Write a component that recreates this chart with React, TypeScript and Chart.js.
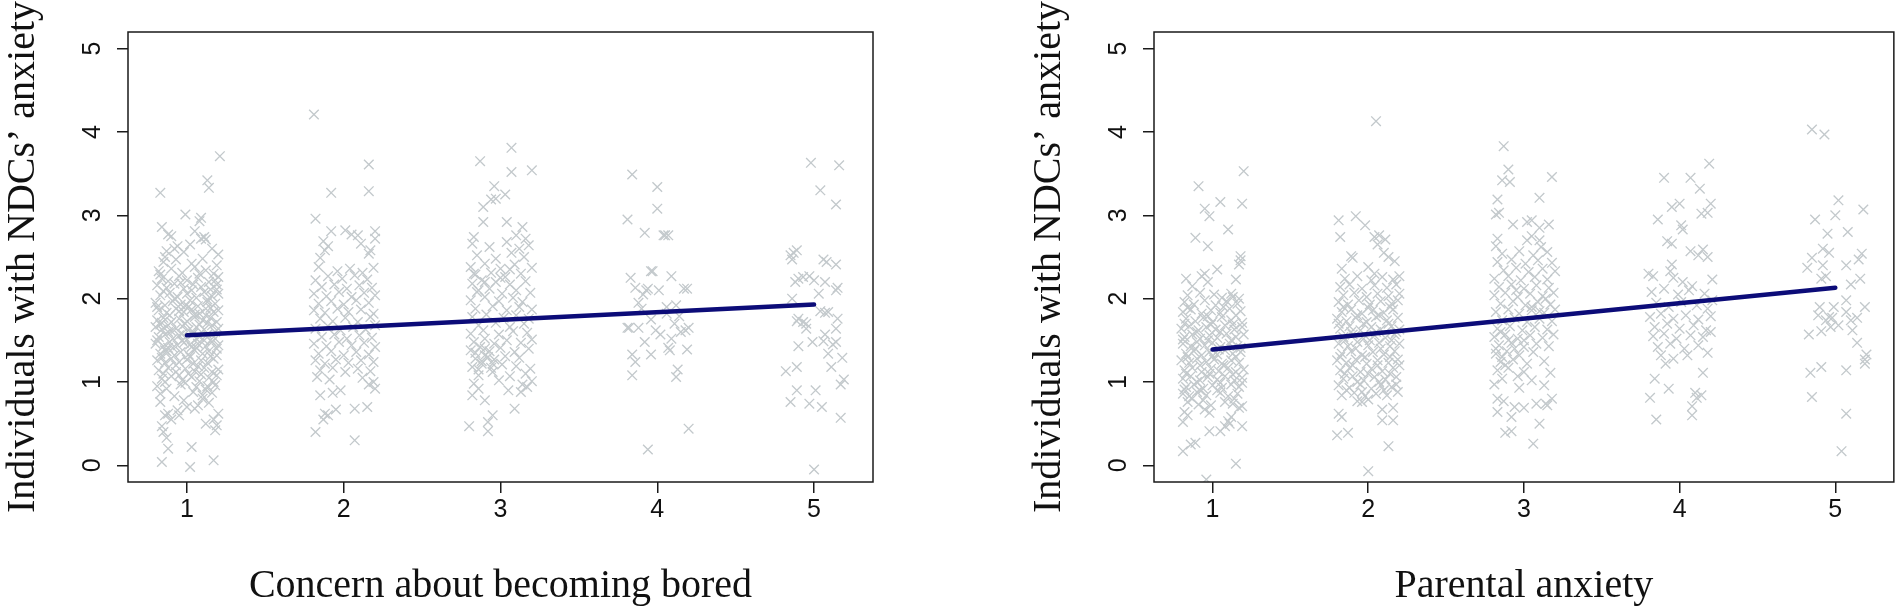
import { useEffect, useRef } from "react";
import Chart from "chart.js/auto";

type Pt = [number, number];

// x: jittered answer category, y: individuals with NDCs' anxiety score
const boredG1: Pt[] = [
  [0.83, 3.27], [1.21, 3.71], [1.13, 3.42], [1.14, 3.33], [0.99, 3.01], [1.09, 2.97], [1.08, 2.93], [0.84, 2.86],
  [0.88, 2.77], [0.9, 2.75], [1.05, 2.81], [1.09, 2.72], [1.12, 2.71], [1.11, 2.74], [0.92, 2.6], [0.94, 2.63],
  [0.98, 2.56], [0.87, 2.57], [0.86, 2.5], [1.2, 2.53], [1.16, 2.6], [1.02, 2.65],
  [0.85, 2.44], [0.93, 2.47], [1.03, 2.42], [1.1, 2.48], [1.19, 2.4],
  [0.82, 2.33], [0.9, 2.36], [0.97, 2.31], [1.05, 2.38], [1.12, 2.34], [1.17, 2.3],
  [0.84, 2.24], [0.88, 2.21], [0.95, 2.27], [1.0, 2.22], [1.07, 2.25], [1.14, 2.2], [1.2, 2.26],
  [0.81, 2.16], [0.87, 2.13], [0.92, 2.18], [0.98, 2.12], [1.04, 2.17], [1.09, 2.14], [1.15, 2.11], [1.19, 2.17],
  [0.83, 2.04], [0.89, 2.07], [0.94, 2.02], [1.0, 2.06], [1.06, 2.01], [1.11, 2.08], [1.16, 2.03], [1.2, 2.06],
  [0.8, 1.95], [0.86, 1.92], [0.91, 1.97], [0.96, 1.93], [1.02, 1.98], [1.07, 1.91], [1.13, 1.96], [1.18, 1.94],
  [0.82, 1.86], [0.87, 1.83], [0.93, 1.88], [0.98, 1.84], [1.03, 1.87], [1.08, 1.82], [1.12, 1.88], [1.17, 1.84], [1.2, 1.86],
  [0.81, 1.74], [0.85, 1.77], [0.9, 1.72], [0.95, 1.76], [1.0, 1.73], [1.05, 1.78], [1.1, 1.74], [1.15, 1.77], [1.19, 1.72],
  [0.8, 1.66], [0.84, 1.63], [0.88, 1.68], [0.93, 1.64], [0.97, 1.67], [1.01, 1.62], [1.06, 1.66], [1.11, 1.63], [1.16, 1.68], [1.2, 1.64],
  [0.82, 1.54], [0.86, 1.57], [0.91, 1.52], [0.95, 1.56], [0.99, 1.53], [1.04, 1.58], [1.08, 1.54], [1.13, 1.57], [1.18, 1.52],
  [0.8, 1.46], [0.85, 1.43], [0.89, 1.48], [0.94, 1.44], [0.98, 1.47], [1.03, 1.42], [1.07, 1.46], [1.12, 1.43], [1.16, 1.48], [1.2, 1.44],
  [0.83, 1.34], [0.87, 1.37], [0.92, 1.32], [0.96, 1.36], [1.01, 1.33], [1.05, 1.38], [1.1, 1.34], [1.14, 1.37], [1.19, 1.32],
  [0.81, 1.26], [0.86, 1.23], [0.9, 1.28], [0.95, 1.24], [1.0, 1.27], [1.04, 1.22], [1.09, 1.26], [1.13, 1.23], [1.17, 1.28],
  [0.82, 1.14], [0.88, 1.17], [0.93, 1.12], [0.99, 1.16], [1.05, 1.13], [1.11, 1.17], [1.16, 1.12], [1.2, 1.15],
  [0.84, 1.04], [0.9, 1.07], [0.97, 1.02], [1.03, 1.06], [1.08, 1.01], [1.14, 1.05], [1.19, 1.08],
  [0.81, 0.95], [0.87, 0.92], [0.96, 0.97], [1.06, 0.94], [1.12, 0.91], [1.18, 0.96],
  [0.83, 0.86], [0.92, 0.83], [1.04, 0.88], [1.1, 0.84], [1.16, 0.87],
  [0.84, 1.71], [0.97, 1.58], [1.08, 1.69], [1.02, 1.45], [0.91, 1.41], [1.15, 1.5], [0.88, 1.6], [1.12, 1.8],
  [0.95, 1.85], [1.01, 1.9], [0.86, 1.38], [1.06, 1.52],
  [0.83, 2.29], [0.96, 2.19], [1.08, 2.3], [1.18, 2.22],
  [0.85, 2.09], [0.92, 2.0], [1.03, 2.1], [1.13, 1.99], [1.19, 2.11],
  [0.81, 1.9], [0.89, 1.8], [0.99, 1.91], [1.05, 1.81], [1.15, 1.89],
  [0.83, 1.69], [0.9, 1.61], [0.99, 1.7], [1.04, 1.6], [1.13, 1.71], [1.18, 1.6],
  [0.81, 1.5], [0.88, 1.41], [0.97, 1.5], [1.06, 1.41], [1.11, 1.5], [1.19, 1.4],
  [0.84, 1.29], [0.93, 1.2], [1.02, 1.3], [1.07, 1.19], [1.15, 1.31],
  [0.85, 1.1], [0.95, 1.08], [1.01, 1.1], [1.09, 1.09], [1.17, 1.0],
  [0.86, 1.0], [0.99, 0.99], [1.13, 0.95],
  [0.83, 0.76], [0.86, 0.6], [0.88, 0.62], [0.94, 0.66], [0.95, 0.6], [1.0, 0.7], [1.05, 0.68], [1.07, 0.72],
  [1.12, 0.5], [1.17, 0.55], [1.19, 0.48], [1.18, 0.42], [0.84, 0.47], [0.85, 0.4], [0.87, 0.33], [0.88, 0.2],
  [0.84, 0.04], [1.03, 0.22], [1.02, -0.02], [1.17, 0.06], [0.9, 0.55], [1.1, 0.8], [1.14, 0.75], [0.98, 0.78], [1.2, 0.62],
];

const boredG2: Pt[] = [
  [1.81, 4.21], [2.16, 3.61], [1.92, 3.27], [2.16, 3.29], [1.82, 2.96], [1.92, 2.81], [2.01, 2.82], [2.05, 2.77],
  [2.09, 2.76], [2.2, 2.81], [2.2, 2.72], [1.87, 2.69], [1.9, 2.63], [1.88, 2.58], [1.85, 2.49], [2.17, 2.58],
  [2.16, 2.54], [2.11, 2.66],
  [1.84, 2.38], [1.96, 2.33], [2.04, 2.36], [2.12, 2.31], [2.19, 2.37],
  [1.82, 2.22], [1.9, 2.27], [1.99, 2.24], [2.07, 2.28], [2.15, 2.23],
  [1.86, 2.14], [1.94, 2.17], [2.02, 2.12], [2.1, 2.16], [2.18, 2.13],
  [1.81, 2.06], [1.89, 2.03], [1.97, 2.08], [2.05, 2.02], [2.13, 2.07], [2.2, 2.04],
  [1.84, 1.94], [1.92, 1.97], [2.0, 1.93], [2.08, 1.98], [2.16, 1.95],
  [1.81, 1.86], [1.88, 1.83], [1.96, 1.88], [2.03, 1.84], [2.11, 1.87], [2.19, 1.82],
  [1.85, 1.76], [1.93, 1.73], [2.01, 1.77], [2.09, 1.72], [2.17, 1.78],
  [1.82, 1.64], [1.9, 1.67], [1.98, 1.62], [2.06, 1.66], [2.14, 1.63], [2.2, 1.68],
  [1.86, 1.54], [1.94, 1.57], [2.02, 1.52], [2.1, 1.56], [2.18, 1.53],
  [1.81, 1.46], [1.89, 1.43], [1.97, 1.48], [2.05, 1.44], [2.13, 1.47], [2.2, 1.42],
  [1.84, 1.34], [1.92, 1.37], [2.0, 1.32], [2.08, 1.36], [2.16, 1.33],
  [1.82, 1.26], [1.88, 1.22], [1.95, 1.27], [2.03, 1.23], [2.11, 1.26], [2.19, 1.24],
  [1.85, 1.14], [1.93, 1.17], [2.01, 1.12], [2.09, 1.16], [2.17, 1.13],
  [1.83, 1.06], [1.91, 1.03], [2.12, 1.05], [2.19, 1.0], [2.16, 0.97],
  [1.85, 0.84], [1.93, 0.87], [1.88, 0.62], [1.9, 0.6], [1.95, 0.67], [2.07, 0.68], [2.15, 0.7], [1.82, 0.4],
  [1.87, 0.55], [2.07, 0.3], [1.98, 0.9], [2.2, 0.92],
];

const boredG3: Pt[] = [
  [2.87, 3.65], [3.07, 3.81], [3.07, 3.52], [3.2, 3.54], [2.96, 3.35], [2.94, 3.19], [2.97, 3.2], [3.03, 3.25],
  [2.89, 3.1], [2.89, 2.92], [3.04, 2.92], [3.14, 2.86], [2.83, 2.74], [3.1, 2.76], [3.16, 2.72],
  [2.82, 2.66], [2.93, 2.62], [3.04, 2.68], [3.12, 2.6], [3.18, 2.64],
  [2.85, 2.52], [2.97, 2.48], [3.07, 2.55], [3.15, 2.5],
  [2.81, 2.38], [2.9, 2.42], [3.0, 2.36], [3.09, 2.41], [3.2, 2.37],
  [2.84, 2.29], [2.94, 2.31], [3.03, 2.26], [3.13, 2.3],
  [2.82, 2.18], [2.88, 2.22], [2.97, 2.2], [3.06, 2.17], [3.16, 2.21],
  [2.85, 2.08], [2.93, 2.12], [3.01, 2.06], [3.1, 2.1], [3.19, 2.07],
  [2.81, 1.98], [2.9, 2.02], [2.99, 1.97], [3.08, 2.01], [3.14, 1.96],
  [2.84, 1.88], [2.95, 1.91], [3.04, 1.86], [3.12, 1.9], [3.2, 1.87],
  [2.82, 1.78], [2.91, 1.81], [3.02, 1.77], [3.1, 1.8], [3.18, 1.76],
  [2.86, 1.68], [2.97, 1.71], [3.06, 1.66], [3.15, 1.7],
  [2.81, 1.58], [2.89, 1.62], [2.99, 1.57], [3.08, 1.61], [3.17, 1.59],
  [2.83, 1.48], [2.9, 1.52], [2.96, 1.46], [3.04, 1.5], [3.13, 1.47], [3.2, 1.51],
  [2.81, 1.38], [2.87, 1.42], [2.93, 1.37], [3.0, 1.41], [3.09, 1.36], [3.18, 1.4],
  [2.84, 1.28], [2.9, 1.32], [2.96, 1.27], [3.03, 1.31], [3.12, 1.29],
  [2.82, 1.18], [2.88, 1.22], [2.94, 1.17], [3.01, 1.21], [3.1, 1.19], [3.19, 1.16],
  [2.86, 1.08], [2.95, 1.12], [3.06, 1.07], [3.16, 1.1],
  [2.83, 0.98], [2.99, 1.02], [3.14, 0.97], [3.2, 1.01],
  [2.84, 1.35], [2.88, 1.25], [2.92, 1.3], [2.86, 1.15], [2.9, 1.4], [2.95, 1.22], [2.83, 2.3], [2.9, 2.2],
  [2.86, 2.1], [3.0, 2.25], [3.06, 2.35],
  [2.8, 0.47], [2.92, 0.41], [2.92, 0.52], [2.95, 0.6], [3.09, 0.68], [2.82, 0.84], [2.9, 0.78], [3.17, 0.94],
  [3.05, 0.9], [3.13, 0.88], [2.86, 0.92],
];

const boredG4: Pt[] = [
  [3.84, 3.49], [4.0, 3.34], [4.0, 3.08], [3.81, 2.95], [3.92, 2.79], [4.04, 2.76], [4.05, 2.76], [4.07, 2.76],
  [3.96, 2.33], [3.97, 2.33], [3.83, 2.25], [4.09, 2.27], [3.93, 2.1], [3.91, 2.05], [3.94, 2.12], [4.01, 2.1],
  [4.19, 2.12], [4.17, 2.12], [3.86, 2.13], [3.88, 1.95], [4.06, 1.9], [4.12, 1.92], [3.81, 1.65], [3.82, 1.65],
  [3.88, 1.65], [3.96, 1.75], [4.02, 1.57], [4.11, 1.7], [4.18, 1.62], [4.2, 1.65], [4.06, 1.82], [3.92, 1.48],
  [3.84, 1.33], [3.86, 1.24], [3.84, 1.08], [3.96, 1.33], [4.07, 1.41], [4.08, 1.38], [4.19, 1.39], [4.13, 1.15],
  [4.12, 1.06], [4.2, 0.44], [3.94, 0.19], [4.14, 1.79], [3.99, 1.62], [4.09, 1.52], [3.9, 1.88], [4.15, 1.6],
];

const boredG5: Pt[] = [
  [4.98, 3.63], [5.16, 3.6], [5.04, 3.3], [5.14, 3.13], [4.85, 2.52], [4.87, 2.55], [4.89, 2.58], [4.86, 2.47],
  [5.06, 2.47], [5.08, 2.44], [5.14, 2.41], [5.15, 2.13], [5.14, 2.1], [4.88, 2.2], [4.9, 2.24], [4.93, 2.26],
  [4.97, 2.27], [5.0, 2.22], [5.03, 2.06], [5.07, 2.2], [4.86, 2.0], [4.89, 1.73], [4.9, 1.76], [4.93, 1.72],
  [4.95, 1.64], [5.04, 1.85], [5.07, 1.83], [5.09, 1.84], [5.15, 1.76], [5.14, 1.64], [5.07, 1.57], [4.99, 1.48],
  [5.14, 1.48], [5.06, 1.49], [4.9, 1.43], [5.09, 1.34], [5.11, 1.18], [4.82, 1.13], [4.89, 1.18], [5.18, 1.29],
  [5.17, 0.97], [5.19, 1.03], [4.89, 0.9], [4.85, 0.76], [4.97, 0.74], [5.01, 0.9], [5.05, 0.7], [5.17, 0.57],
  [5.0, -0.05], [4.95, 1.7], [5.12, 1.45],
];

const parentG1: Pt[] = [
  [1.2, 3.53], [0.91, 3.35], [1.19, 3.14], [1.05, 3.16], [0.95, 3.08], [0.98, 2.99], [1.1, 2.83], [0.89, 2.73],
  [0.97, 2.63], [1.18, 2.51], [1.17, 2.41], [1.18, 2.46], [0.83, 2.24], [0.93, 2.27], [0.95, 2.3], [1.03, 2.35],
  [1.15, 2.23], [0.97, 2.2], [0.87, 2.15], [1.01, 2.05], [1.13, 2.02], [1.17, 2.0],
  [0.84, 2.04], [0.92, 2.07], [1.06, 2.01], [1.12, 2.06],
  [0.82, 1.96], [0.88, 1.93], [0.95, 1.98], [1.02, 1.92], [1.09, 1.97], [1.16, 1.94],
  [0.81, 1.84], [0.86, 1.87], [0.93, 1.82], [0.99, 1.86], [1.05, 1.83], [1.11, 1.88], [1.18, 1.85],
  [0.83, 1.76], [0.89, 1.73], [0.94, 1.77], [1.0, 1.72], [1.06, 1.78], [1.12, 1.74], [1.19, 1.71],
  [0.8, 1.64], [0.85, 1.67], [0.91, 1.62], [0.96, 1.66], [1.02, 1.63], [1.08, 1.68], [1.14, 1.63], [1.19, 1.66],
  [0.82, 1.54], [0.87, 1.57], [0.92, 1.52], [0.98, 1.56], [1.03, 1.53], [1.09, 1.58], [1.15, 1.54], [1.2, 1.57],
  [0.81, 1.46], [0.86, 1.43], [0.9, 1.48], [0.95, 1.44], [1.0, 1.47], [1.05, 1.42], [1.11, 1.46], [1.16, 1.43],
  [0.83, 1.34], [0.88, 1.37], [0.93, 1.32], [0.98, 1.36], [1.03, 1.33], [1.08, 1.38], [1.13, 1.34], [1.18, 1.36],
  [0.8, 1.26], [0.85, 1.23], [0.9, 1.28], [0.96, 1.24], [1.01, 1.27], [1.06, 1.22], [1.12, 1.26], [1.17, 1.23],
  [0.82, 1.14], [0.87, 1.17], [0.93, 1.12], [0.99, 1.16], [1.04, 1.13], [1.1, 1.17], [1.15, 1.12], [1.2, 1.15],
  [0.81, 1.04], [0.86, 1.07], [0.92, 1.02], [0.97, 1.06], [1.03, 1.03], [1.08, 1.07], [1.14, 1.02], [1.19, 1.05],
  [0.83, 0.94], [0.88, 0.97], [0.94, 0.92], [1.0, 0.96], [1.06, 0.93], [1.12, 0.97], [1.17, 0.94],
  [0.81, 0.86], [0.85, 0.83], [0.9, 0.88], [0.96, 0.84], [1.05, 0.87], [1.1, 0.83], [1.16, 0.86],
  [0.84, 0.76], [0.91, 0.73], [0.94, 0.78], [0.99, 0.72], [1.08, 0.76], [1.13, 0.74], [1.19, 0.71],
  [0.82, 0.64], [0.95, 0.67], [0.98, 0.63], [1.17, 0.69],
  [0.84, 1.89], [0.97, 1.79], [1.07, 1.9], [1.15, 1.8],
  [0.82, 1.7], [0.9, 1.6], [0.99, 1.69], [1.05, 1.6], [1.13, 1.69],
  [0.81, 1.51], [0.89, 1.4], [0.97, 1.5], [1.04, 1.39], [1.12, 1.5], [1.18, 1.41],
  [0.84, 1.3], [0.92, 1.2], [1.0, 1.31], [1.07, 1.2], [1.15, 1.3],
  [0.83, 1.1], [0.9, 1.0], [0.98, 1.1], [1.05, 0.99], [1.13, 1.09], [1.19, 0.99],
  [0.82, 0.91], [0.87, 0.8], [0.92, 0.9], [1.03, 0.9], [1.14, 0.8],
  [0.81, 0.17], [0.86, 0.25], [0.89, 0.27], [0.98, 0.41], [1.05, 0.41], [1.19, 0.47], [0.81, 0.52], [0.84, 0.6],
  [1.1, 0.53], [1.15, 0.02], [0.96, -0.17], [1.12, 0.58], [1.08, 0.47], [1.11, 0.5],
];

const parentG2: Pt[] = [
  [2.05, 4.13], [1.81, 2.94], [1.92, 2.99], [1.98, 2.88], [1.82, 2.74], [2.04, 2.74], [2.07, 2.76], [2.11, 2.71],
  [2.06, 2.65], [1.89, 2.51], [2.13, 2.5], [2.17, 2.45], [1.83, 2.36], [2.04, 2.3], [1.9, 2.49], [2.1, 2.55], [2.0, 2.38],
  [1.85, 2.24], [1.93, 2.27], [2.02, 2.22], [2.09, 2.26], [2.16, 2.23], [2.2, 2.27],
  [1.82, 2.14], [1.88, 2.17], [1.96, 2.12], [2.04, 2.16], [2.12, 2.13], [2.18, 2.17],
  [1.84, 2.04], [1.91, 2.07], [1.99, 2.02], [2.06, 2.06], [2.13, 2.03], [2.2, 2.06],
  [1.81, 1.96], [1.87, 1.93], [1.94, 1.98], [2.01, 1.93], [2.08, 1.97], [2.15, 1.94], [2.19, 1.98],
  [1.83, 1.84], [1.89, 1.87], [1.96, 1.82], [2.03, 1.86], [2.1, 1.83], [2.16, 1.87],
  [1.8, 1.76], [1.86, 1.73], [1.92, 1.77], [1.99, 1.72], [2.05, 1.78], [2.12, 1.74], [2.19, 1.77],
  [1.82, 1.64], [1.88, 1.67], [1.95, 1.62], [2.02, 1.66], [2.08, 1.63], [2.15, 1.67], [2.2, 1.63],
  [1.84, 1.54], [1.9, 1.57], [1.97, 1.52], [2.04, 1.56], [2.11, 1.53], [2.17, 1.57],
  [1.81, 1.46], [1.87, 1.43], [1.93, 1.48], [2.0, 1.44], [2.07, 1.47], [2.14, 1.43], [2.2, 1.46],
  [1.83, 1.34], [1.89, 1.37], [1.96, 1.32], [2.03, 1.36], [2.1, 1.33], [2.17, 1.37],
  [1.8, 1.26], [1.86, 1.23], [1.92, 1.27], [1.99, 1.22], [2.06, 1.26], [2.13, 1.23], [2.19, 1.27],
  [1.82, 1.14], [1.88, 1.17], [1.95, 1.12], [2.02, 1.16], [2.09, 1.13], [2.16, 1.17],
  [1.84, 1.04], [1.9, 1.07], [1.97, 1.02], [2.04, 1.06], [2.11, 1.03], [2.18, 1.06],
  [1.81, 0.96], [1.88, 0.93], [1.95, 0.97], [2.02, 0.92], [2.08, 0.96], [2.15, 0.94],
  [1.83, 0.84], [1.91, 0.87], [1.98, 0.83], [2.05, 0.86], [2.12, 0.84], [2.19, 0.88],
  [1.93, 0.77], [1.96, 0.76], [2.0, 0.79],
  [1.84, 1.9], [1.93, 1.8], [2.0, 1.89], [2.07, 1.8], [2.14, 1.9],
  [1.81, 1.7], [1.89, 1.6], [1.97, 1.7], [2.05, 1.6], [2.13, 1.7], [2.18, 1.6],
  [1.85, 1.5], [1.92, 1.4], [2.01, 1.5], [2.08, 1.4], [2.15, 1.5],
  [1.82, 1.3], [1.9, 1.2], [1.98, 1.3], [2.06, 1.2], [2.14, 1.3], [2.2, 1.2],
  [1.85, 1.1], [1.93, 1.0], [2.0, 1.1], [2.07, 1.0], [2.14, 1.1],
  [1.86, 0.9], [1.96, 0.88], [2.1, 0.9], [2.18, 0.97],
  [1.81, 0.62], [1.83, 0.58], [2.09, 0.67], [2.16, 0.69], [2.09, 0.54], [2.16, 0.54], [1.8, 0.36], [1.87, 0.39],
  [2.13, 0.23], [2.0, -0.07],
];

const parentG3: Pt[] = [
  [2.87, 3.83], [2.9, 3.55], [2.86, 3.42], [2.91, 3.4], [3.18, 3.46], [2.83, 3.19], [3.1, 3.21], [2.82, 3.01],
  [2.84, 3.03], [2.93, 2.89], [3.02, 2.92], [3.05, 2.94], [3.1, 2.85], [3.16, 2.89], [2.83, 2.72], [3.02, 2.7],
  [3.05, 2.75], [3.1, 2.7], [3.11, 2.62], [2.82, 2.63],
  [2.86, 2.54], [2.97, 2.57], [3.06, 2.52], [3.15, 2.56],
  [2.83, 2.44], [2.92, 2.47], [3.01, 2.42], [3.09, 2.46], [3.18, 2.43],
  [2.87, 2.34], [2.95, 2.37], [3.03, 2.32], [3.12, 2.36], [3.2, 2.33],
  [2.81, 2.24], [2.9, 2.27], [2.98, 2.22], [3.07, 2.26], [3.15, 2.23],
  [2.84, 2.14], [2.92, 2.17], [3.0, 2.12], [3.08, 2.16], [3.16, 2.13],
  [2.81, 2.04], [2.88, 2.07], [2.96, 2.02], [3.04, 2.06], [3.12, 2.03], [3.19, 2.07],
  [2.85, 1.94], [2.93, 1.97], [3.01, 1.92], [3.09, 1.96], [3.17, 1.93],
  [2.82, 1.84], [2.9, 1.87], [2.97, 1.82], [3.05, 1.86], [3.13, 1.83], [3.2, 1.87],
  [2.86, 1.74], [2.94, 1.77], [3.02, 1.72], [3.1, 1.76], [3.18, 1.73],
  [2.83, 1.64], [2.91, 1.67], [2.99, 1.62], [3.07, 1.66], [3.15, 1.63],
  [2.81, 1.54], [2.88, 1.57], [2.96, 1.52], [3.04, 1.56], [3.12, 1.53], [3.19, 1.57],
  [2.84, 1.44], [2.92, 1.47], [3.0, 1.42], [3.08, 1.46], [3.16, 1.43],
  [2.82, 1.34], [2.89, 1.37], [2.97, 1.32], [3.06, 1.36],
  [2.85, 1.24], [2.93, 1.27], [3.02, 1.22], [3.13, 1.25],
  [2.83, 1.14], [2.9, 1.17], [3.0, 1.12],
  [2.86, 1.04], [2.96, 1.07], [3.05, 1.02],
  [2.82, 1.4], [2.86, 1.3], [2.9, 1.5], [2.94, 1.4], [2.88, 1.2], [2.85, 1.6], [3.0, 1.5], [3.05, 1.9],
  [2.95, 2.1], [3.1, 1.85], [3.14, 2.0],
  [2.83, 0.8], [2.87, 0.77], [2.94, 0.7], [3.0, 0.69], [3.08, 0.74], [3.14, 0.74], [3.18, 0.8], [2.83, 0.64],
  [2.92, 0.58], [3.1, 0.5], [2.88, 0.39], [2.92, 0.41], [3.06, 0.26], [3.17, 1.11], [3.15, 0.72], [2.81, 0.97],
  [2.97, 0.93], [3.13, 0.96],
];

const parentG4: Pt[] = [
  [4.19, 3.62], [3.9, 3.45], [4.07, 3.45], [4.13, 3.32], [4.0, 3.14], [3.95, 3.1], [4.2, 3.14], [4.14, 3.02],
  [4.18, 3.03], [3.86, 2.95], [4.01, 2.88], [4.02, 2.83], [3.92, 2.69], [3.95, 2.66], [4.07, 2.57], [4.12, 2.52],
  [4.15, 2.59], [4.18, 2.5], [3.95, 2.41], [3.94, 2.33], [3.8, 2.3], [3.83, 2.27], [3.96, 2.25], [4.02, 2.2],
  [4.21, 2.23], [4.08, 2.15],
  [3.82, 2.08], [3.9, 2.12], [3.99, 2.05], [4.06, 2.1], [4.16, 2.06], [4.21, 1.98],
  [3.85, 1.95], [3.93, 1.9], [4.01, 1.96], [4.11, 1.92], [4.18, 1.88],
  [3.81, 1.78], [3.88, 1.82], [3.96, 1.76], [4.04, 1.8], [4.12, 1.75], [4.2, 1.79],
  [3.84, 1.66], [3.92, 1.7], [4.0, 1.64], [4.09, 1.68], [4.17, 1.62],
  [3.83, 1.55], [3.9, 1.58], [3.98, 1.52], [4.07, 1.56], [4.15, 1.54], [4.2, 1.6],
  [3.86, 1.42], [3.94, 1.46], [4.03, 1.4], [4.12, 1.44],
  [3.88, 1.32], [3.96, 1.28], [4.05, 1.32], [4.18, 1.35], [3.91, 1.22],
  [3.84, 1.04], [3.93, 0.92], [3.81, 0.81], [4.1, 0.87], [4.11, 0.81], [4.14, 0.84], [4.08, 0.71], [4.08, 0.6],
  [3.85, 0.55], [4.15, 1.11],
];

const parentG5: Pt[] = [
  [4.85, 4.03], [4.93, 3.97], [5.02, 3.18], [5.18, 3.07], [4.87, 2.95], [5.0, 3.0], [4.95, 2.78], [5.08, 2.8],
  [4.92, 2.6], [4.85, 2.49], [4.82, 2.37], [4.96, 2.55], [5.17, 2.54], [5.15, 2.47], [5.07, 2.4], [4.92, 2.4],
  [4.91, 2.24], [4.94, 2.27], [5.16, 2.24], [5.1, 2.17], [4.9, 1.9], [4.99, 1.9], [5.07, 1.84], [5.19, 1.9],
  [5.07, 1.98], [4.96, 1.78], [4.98, 1.77], [4.89, 1.8], [5.14, 1.77], [5.1, 1.74], [4.83, 1.57], [4.91, 1.61],
  [5.14, 1.47], [5.2, 1.33], [5.19, 1.22], [5.19, 1.27], [4.84, 1.11], [4.91, 1.18], [4.85, 0.82], [5.07, 1.14],
  [5.07, 0.62], [5.04, 0.17], [4.97, 1.66], [5.02, 1.68], [4.94, 1.74], [5.11, 1.62],
];

// fitted regression lines (value at x = 1 and x = 5)
const boredFit: Pt[] = [[1, 1.56], [5, 1.93]];
const parentFit: Pt[] = [[1, 1.39], [5, 2.13]];

const yTitle = "Individuals with NDCs\u2019 anxiety";

const boxPlugin = {
  id: "plotBox",
  afterDraw(chart: Chart) {
    const { ctx, chartArea } = chart;
    ctx.save();
    ctx.strokeStyle = "#1a1a1a";
    ctx.lineWidth = 1.5;
    ctx.strokeRect(chartArea.left, chartArea.top, chartArea.right - chartArea.left, chartArea.bottom - chartArea.top);
    ctx.restore();
  },
};

interface PanelProps {
  groups: Pt[][];
  fit: Pt[];
  xTitle: string;
  left: number;
  width: number;
  padRight: number;
}

const Panel = ({ groups, fit, xTitle, left, width, padRight }: PanelProps) => {
  const canvasRef = useRef<HTMLCanvasElement>(null);
  const chartRef = useRef<Chart | null>(null);

  useEffect(() => {
    if (!canvasRef.current) return;
    if (chartRef.current) chartRef.current.destroy();

    const points = groups.flat().map(([x, y]) => ({ x, y }));
    const axisColor = "#1a1a1a";
    const tickFont = { family: "'Liberation Sans', Arial, sans-serif", size: 25 };
    const titleFont = { family: "'Liberation Serif', 'Times New Roman', serif", size: 40, lineHeight: 1.15 };

    chartRef.current = new Chart(canvasRef.current, {
      type: "scatter",
      data: {
        datasets: [
          {
            data: fit.map(([x, y]) => ({ x, y })),
            showLine: true,
            borderColor: "#0c0c78",
            borderWidth: 4.5,
            borderCapStyle: "round",
            pointRadius: 0,
            order: 0,
          },
          {
            data: points,
            pointStyle: "crossRot",
            pointRadius: 6.8,
            pointBorderWidth: 1.35,
            borderColor: "#c3c9cc",
            backgroundColor: "#c3c9cc",
            order: 1,
          },
        ],
      },
      options: {
        animation: false,
        responsive: true,
        maintainAspectRatio: false,
        events: [],
        layout: { padding: { top: 30, right: padRight, left: 0, bottom: 0 } },
        plugins: { legend: { display: false }, tooltip: { enabled: false } },
        scales: {
          x: {
            type: "linear",
            min: 0.624,
            max: 5.376,
            afterFit: (scale) => {
              scale.height = 127;
            },
            border: { display: false },
            grid: { drawOnChartArea: false, drawTicks: true, tickLength: 11, color: axisColor, lineWidth: 1.5 },
            ticks: { stepSize: 1, includeBounds: false, color: "#111", font: tickFont, padding: 2, maxRotation: 0 },
            title: { display: true, text: xTitle, color: "#111", font: titleFont, padding: 0 },
          },
          y: {
            type: "linear",
            min: -0.2,
            max: 5.2,
            afterFit: (scale) => {
              scale.width = 128;
            },
            border: { display: false },
            grid: { drawOnChartArea: false, drawTicks: true, tickLength: 11, color: axisColor, lineWidth: 1.5 },
            ticks: {
              stepSize: 1,
              includeBounds: false,
              color: "#111",
              font: tickFont,
              minRotation: 90,
              maxRotation: 90,
              crossAlign: "center",
              padding: 17,
            },
            title: { display: true, text: yTitle, color: "#111", font: titleFont, padding: 0 },
          },
        },
      },
      plugins: [boxPlugin],
    });

    return () => {
      if (chartRef.current) {
        chartRef.current.destroy();
        chartRef.current = null;
      }
    };
  }, [groups, fit, xTitle, padRight]);

  return (
    <div style={{ position: "absolute", left, top: 0, width, height: 609 }}>
      <canvas ref={canvasRef} />
    </div>
  );
};

const boredGroups = [boredG1, boredG2, boredG3, boredG4, boredG5];
const parentGroups = [parentG1, parentG2, parentG3, parentG4, parentG5];

export default function App() {
  return (
    <div style={{ position: "fixed", left: 0, top: 0, width: 1902, height: 609, background: "#fff" }}>
      <Panel groups={boredGroups} fit={boredFit} xTitle="Concern about becoming bored" left={0} width={951} padRight={78} />
      <Panel groups={parentGroups} fit={parentFit} xTitle="Parental anxiety" left={1026} width={876} padRight={5} />
    </div>
  );
}
